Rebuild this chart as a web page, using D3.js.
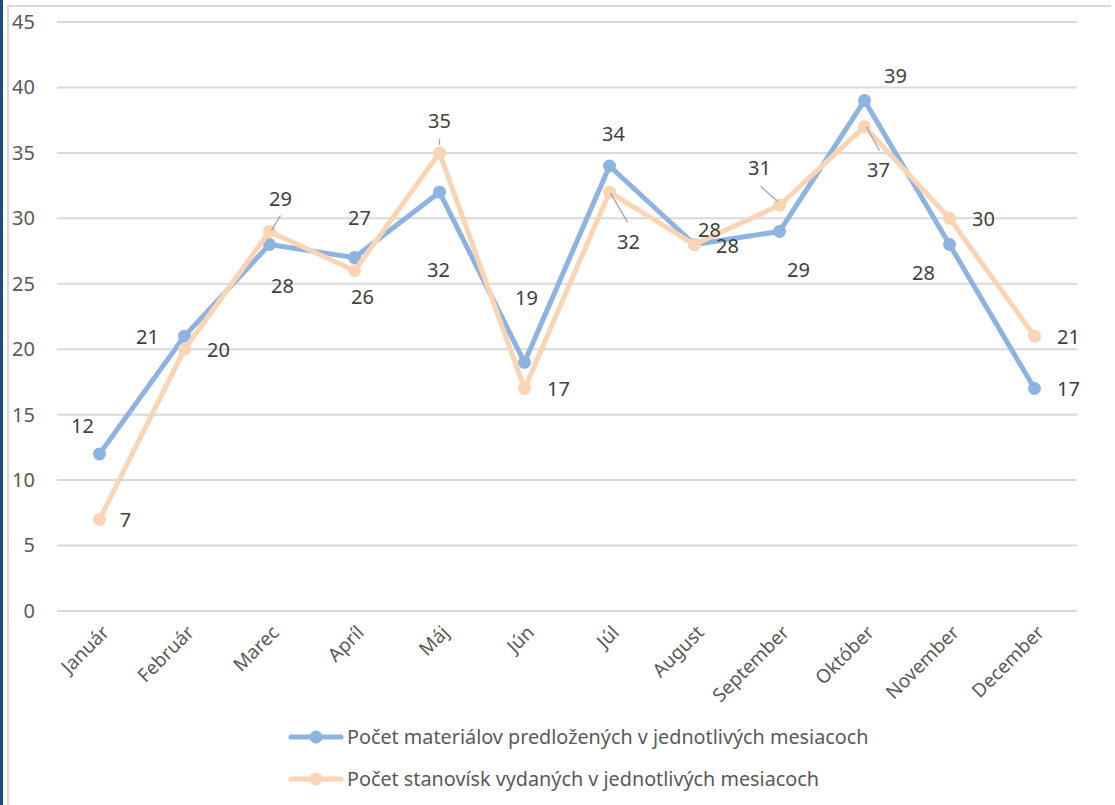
<!DOCTYPE html>
<html><head><meta charset="utf-8">
<script src="https://cdn.jsdelivr.net/npm/d3@7"></script>
<style>
html,body{margin:0;padding:0;background:#fff;}
svg{display:block;}
text{font-family:"Noto Sans",sans-serif;}
</style></head>
<body>
<svg id="c" width="1115" height="805"></svg>
<script>
const months = ["Január","Február","Marec","Apríl","Máj","Jún","Júl","August","September","Október","November","December"];
const materialy = [12,21,28,27,32,19,34,28,29,39,28,17];
const stanoviska = [7,20,29,26,35,17,32,28,31,37,30,21];
const yTicks = [0,5,10,15,20,25,30,35,40,45];
const seriesNames = ["Počet materiálov predložených v jednotlivých mesiacoch","Počet stanovísk vydaných v jednotlivých mesiacoch"];
// label offsets (px) relative to each point
const materialyLabelOffsets = [[-17,-28],[-37,1],[13,41],[5,-40],[-1,78],[2,-64],[4,-32],[33,1],[19,39],[31,-25],[-26,28],[34,1]];
const stanoviskaLabelOffsets = [[26,1],[34,1],[11,-32],[8,26],[0,-32],[34,1],[19,50],[15,-15],[-20,-37],[14,43],[34,1],[34,1]];
// leader lines: [x1,y1,x2,y2] relative to point
const stanoviskaLeaders = [null,null,[2,-1,11,-16],null,[0,-8,0,-14],null,[1,1,18,30],null,[-2,-4,-19,-19],[2,0,15,24],null,null];

const svg = d3.select("#c");
const W = 1115, H = 805;
const colors = ["#8DB3E2","#FBD4B4"];
const textCol = "#595959";

// frame
svg.append("rect").attr("x",0).attr("y",0).attr("width",3).attr("height",H).attr("fill","#1F4E79");
svg.append("line").attr("x1",8).attr("x2",8).attr("y1",5).attr("y2",H).attr("stroke","#D9D9D9").attr("stroke-width",2);
svg.append("line").attr("x1",7).attr("x2",1111).attr("y1",6).attr("y2",6).attr("stroke","#D9D9D9").attr("stroke-width",2);

const x = d3.scaleBand().domain(months).range([57,1077]);
const y = d3.scaleLinear().domain([0,45]).range([611,22]);
const cx = m => x(m) + x.bandwidth()/2;

// gridlines
svg.append("g").selectAll("line").data(yTicks).join("line")
  .attr("x1",57).attr("x2",1077).attr("y1",d=>y(d)).attr("y2",d=>y(d))
  .attr("stroke","#D9D9D9").attr("stroke-width",2);

// y axis labels
const yAxis = d3.axisLeft(y).tickValues(yTicks).tickSize(0).tickPadding(0);
const gy = svg.append("g").attr("transform","translate(35,0)").call(yAxis);
gy.select(".domain").remove();
gy.selectAll("text").attr("fill",textCol).style("font-size","20px").style("font-family","'Noto Sans',sans-serif");

// x axis labels
const xAxis = d3.axisBottom(x).tickSize(0).tickPadding(0);
const gx = svg.append("g").attr("transform","translate(0,611)").call(xAxis);
gx.select(".domain").remove();
gx.selectAll("text")
  .attr("fill",textCol).style("font-size","19px").style("font-family","'Noto Sans',sans-serif")
  .attr("text-anchor","end").attr("dy","0.35em").attr("y",0)
  .attr("transform","translate(6,18) rotate(-45)");

const line = d3.line().x((d,i)=>cx(months[i])).y(d=>y(d));
const series = [
  {vals: materialy, off: materialyLabelOffsets, leaders: null, color: colors[0]},
  {vals: stanoviska, off: stanoviskaLabelOffsets, leaders: stanoviskaLeaders, color: colors[1]}
];

series.forEach(s=>{
  const g = svg.append("g");
  g.append("path").datum(s.vals).attr("d",line).attr("fill","none")
    .attr("stroke",s.color).attr("stroke-width",5).attr("stroke-linejoin","round");
  g.selectAll("circle").data(s.vals).join("circle")
    .attr("cx",(d,i)=>cx(months[i])).attr("cy",d=>y(d)).attr("r",6.5).attr("fill",s.color);
});

series.forEach(s=>{
  const g = svg.append("g");
  if (s.leaders) {
    g.selectAll("line").data(s.vals.map((d,i)=>({d,i,l:s.leaders[i]})).filter(o=>o.l)).join("line")
      .attr("x1",o=>cx(months[o.i])+o.l[0]).attr("y1",o=>y(o.d)+o.l[1])
      .attr("x2",o=>cx(months[o.i])+o.l[2]).attr("y2",o=>y(o.d)+o.l[3])
      .attr("stroke","#A6A6A6").attr("stroke-width",1.3);
  }
  g.selectAll("text").data(s.vals).join("text")
    .attr("x",(d,i)=>cx(months[i])+s.off[i][0]).attr("y",(d,i)=>y(d)+s.off[i][1])
    .attr("text-anchor","middle").attr("dy","0.35em")
    .attr("fill","#404040").style("font-size","20px")
    .text(d=>d);
});

// legend
const lg = svg.append("g");
seriesNames.forEach((name,i)=>{
  const yy = 737 + i*42;
  lg.append("line").attr("x1",291).attr("x2",341).attr("y1",yy).attr("y2",yy)
    .attr("stroke",colors[i]).attr("stroke-width",5).attr("stroke-linecap","round");
  lg.append("circle").attr("cx",316).attr("cy",yy).attr("r",6.5).attr("fill",colors[i]);
  lg.append("text").attr("x",347).attr("y",yy).attr("dy","0.35em")
    .attr("fill",textCol).style("font-size","19.8px").text(name);
});
</script>
</body></html>
